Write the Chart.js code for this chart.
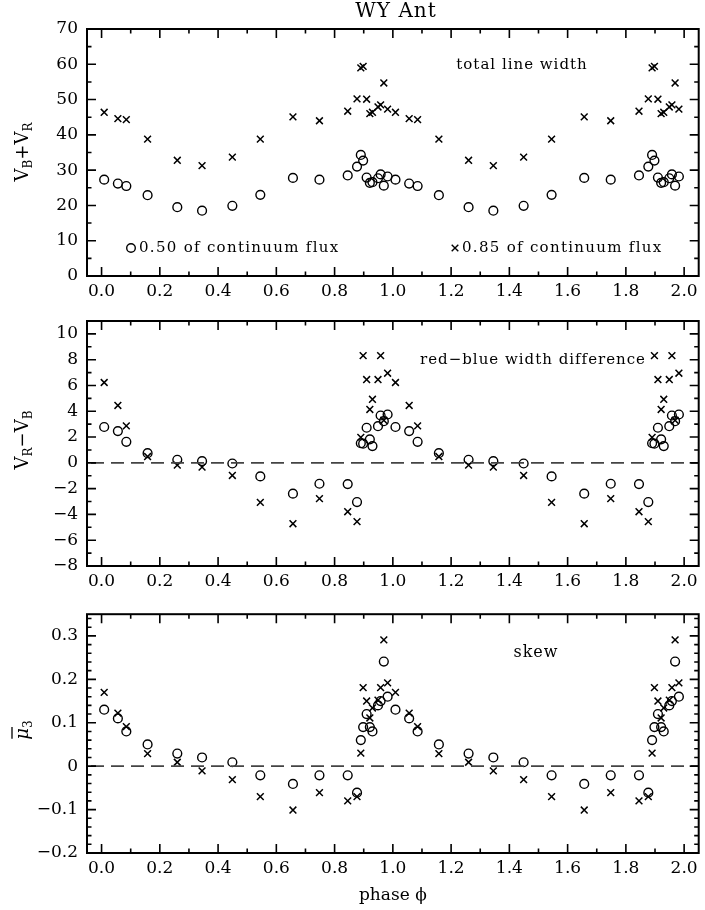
<!DOCTYPE html>
<html>
<head>
<meta charset="utf-8">
<script src="https://cdn.jsdelivr.net/npm/chart.js@4.4.1/dist/chart.umd.min.js"></script>
<style>
body { margin: 0; background: #fff; }
#wrap { position: relative; width: 705px; height: 910px; }
canvas { position: absolute; left: 0; }
</style>
</head>
<body>
<div id="wrap">
<canvas id="c1" width="705" height="300" style="top:0px"></canvas>
<canvas id="c2" width="705" height="295" style="top:300px"></canvas>
<canvas id="c3" width="705" height="315" style="top:595px"></canvas>
</div>
<script>
// phases of the observations (each one is plotted again at phase + 1)
const phases = [0.009, 0.056, 0.085, 0.158, 0.260, 0.345, 0.449, 0.545, 0.657, 0.748,
                0.845, 0.877, 0.890, 0.898, 0.910, 0.921, 0.930, 0.949, 0.958, 0.969, 0.982];

// total line width V_B + V_R
const widthO50 = [27.3, 26.2, 25.5, 22.9, 19.5, 18.5, 19.9, 23.0, 27.8, 27.3,
                  28.5, 31.0, 34.3, 32.7, 27.9, 26.4, 26.6, 27.7, 28.8, 25.6, 28.2];
const widthX85 = [46.4, 44.6, 44.3, 38.8, 32.8, 31.3, 33.7, 38.8, 45.1, 44.0,
                  46.7, 50.2, 59.0, 59.4, 50.1, 46.0, 46.4, 47.9, 48.5, 54.7, 47.3];

// red-blue width difference V_R - V_B
const diffO50 = [2.78, 2.46, 1.63, 0.75, 0.24, 0.13, -0.05, -1.05, -2.39, -1.62,
                 -1.65, -3.04, 1.52, 1.49, 2.72, 1.82, 1.30, 2.84, 3.67, 3.23, 3.75];
const diffX85 = [6.23, 4.45, 2.87, 0.49, -0.18, -0.33, -0.98, -3.07, -4.72, -2.78,
                 -3.79, -4.56, 1.97, 8.32, 6.46, 4.14, 4.93, 6.46, 8.32, 3.30, 6.95];

// skew
const skewO50 = [0.130, 0.110, 0.080, 0.050, 0.029, 0.020, 0.009, -0.021, -0.041, -0.021,
                 -0.021, -0.061, 0.060, 0.090, 0.120, 0.090, 0.080, 0.140, 0.150, 0.241, 0.160];
const skewX85 = [0.170, 0.122, 0.091, 0.029, 0.009, -0.011, -0.031, -0.070, -0.101, -0.061,
                 -0.080, -0.070, 0.030, 0.181, 0.150, 0.111, 0.134, 0.152, 0.181, 0.291, 0.192];

const xTicks = [0, 0.2, 0.4, 0.6, 0.8, 1.0, 1.2, 1.4, 1.6, 1.8, 2.0];
const widthTicks = [0, 10, 20, 30, 40, 50, 60, 70];
const diffTicks = [-8, -6, -4, -2, 0, 2, 4, 6, 8, 10];
const skewTicks = [-0.2, -0.1, 0, 0.1, 0.2, 0.3];

const FONT = 'DejaVu Serif';

function pts(vals) {
    const out = [];
    for (let k = 0; k < 2; k++) {
        phases.forEach((p, i) => {
            if (p + k <= 2.0) out.push({x: p + k, y: vals[i]});
        });
    }
    return out;
}

function minus(s) {
    return s.replace('-', '\u2212');
}

// frame, inward ticks, dashed zero line, texts
function framePlugin(cfg) {
    return {
        id: 'frame' + cfg.name,
        afterDraw(chart) {
            const ctx = chart.ctx;
            const a = chart.chartArea;
            const xs = chart.scales.x;
            const ys = chart.scales.y;
            ctx.save();

            if (cfg.zeroLine) {
                ctx.strokeStyle = '#444';
                ctx.lineWidth = 1.6;
                ctx.setLineDash([13, 7]);
                const y0 = ys.getPixelForValue(0);
                ctx.beginPath();
                ctx.moveTo(a.left + 4, y0);
                ctx.lineTo(a.right, y0);
                ctx.stroke();
                ctx.setLineDash([]);
            }

            ctx.strokeStyle = '#000';
            ctx.lineWidth = 1.6;
            ctx.beginPath();
            for (let v = 0; v <= 2.0001; v += 0.1) {
                const px = xs.getPixelForValue(v);
                const major = Math.abs(v * 5 - Math.round(v * 5)) < 1e-6;
                const len = major ? 9 : 4.5;
                ctx.moveTo(px, a.bottom); ctx.lineTo(px, a.bottom - len);
                ctx.moveTo(px, a.top); ctx.lineTo(px, a.top + len);
            }
            for (let v = cfg.minorFrom; v <= ys.max + 1e-9; v += cfg.minorStep) {
                const py = ys.getPixelForValue(v);
                const r = v / cfg.majorStep;
                const major = Math.abs(r - Math.round(r)) < 1e-6;
                const len = major ? 9 : 4.5;
                ctx.moveTo(a.left, py); ctx.lineTo(a.left + len, py);
                ctx.moveTo(a.right, py); ctx.lineTo(a.right - len, py);
            }
            ctx.stroke();

            ctx.lineWidth = 2;
            ctx.strokeRect(a.left, a.top, a.right - a.left, a.bottom - a.top);

            ctx.fillStyle = '#000';
            ctx.textBaseline = 'middle';
            (cfg.texts || []).forEach(t => {
                ctx.font = t.font || ('15px ' + FONT);
                ctx.letterSpacing = t.spacing || '0px';
                ctx.textAlign = t.align || 'left';
                ctx.fillText(t.text, t.x, t.y);
            });
            ctx.letterSpacing = '0px';
            (cfg.marks || []).forEach(m => {
                ctx.lineWidth = 1.4;
                ctx.beginPath();
                if (m.type === 'circle') {
                    ctx.arc(m.x, m.y, 4.3, 0, Math.PI * 2);
                } else {
                    ctx.moveTo(m.x - 3.3, m.y - 3.3); ctx.lineTo(m.x + 3.3, m.y + 3.3);
                    ctx.moveTo(m.x - 3.3, m.y + 3.3); ctx.lineTo(m.x + 3.3, m.y - 3.3);
                }
                ctx.stroke();
            });

            // rotated y title with subscripts
            ctx.save();
            ctx.translate(cfg.labelX, cfg.labelY);
            ctx.rotate(-Math.PI / 2);
            ctx.textAlign = 'left';
            ctx.textBaseline = 'alphabetic';
            let w = 0;
            cfg.label.forEach(p => { ctx.font = p.font; w += ctx.measureText(p.t).width; });
            let x = -w / 2;
            cfg.label.forEach(p => {
                ctx.font = p.font;
                ctx.fillText(p.t, x, p.dy || 0);
                const pw = ctx.measureText(p.t).width;
                if (p.bar) {
                    ctx.lineWidth = 1.3;
                    ctx.beginPath();
                    ctx.moveTo(x + 1, -16);
                    ctx.lineTo(x + pw + 1, -16);
                    ctx.stroke();
                }
                x += pw;
            });
            ctx.restore();

            ctx.restore();
        }
    };
}

function makeChart(id, cfg) {
    const ctx = document.getElementById(id).getContext('2d');
    return new Chart(ctx, {
        type: 'scatter',
        data: {
            datasets: [{
                label: '0.50 of continuum flux',
                data: pts(cfg.o50),
                pointStyle: 'circle',
                pointRadius: 4.4,
                borderColor: '#000',
                backgroundColor: 'rgba(0,0,0,0)',
                borderWidth: 1.4
            }, {
                label: '0.85 of continuum flux',
                data: pts(cfg.x85),
                pointStyle: 'crossRot',
                pointRadius: 4.8,
                borderColor: '#000',
                backgroundColor: '#000',
                borderWidth: 1.5
            }]
        },
        options: {
            responsive: false,
            animation: false,
            events: [],
            layout: {padding: {top: cfg.padTop, right: 1, left: 0, bottom: cfg.padBottom || 0}},
            plugins: {legend: {display: false}, tooltip: {enabled: false}},
            scales: {
                x: {
                    type: 'linear',
                    min: -0.05,
                    max: 2.05,
                    afterBuildTicks: s => { s.ticks = xTicks.map(v => ({value: v})); },
                    afterFit: s => { s.height = cfg.xHeight; },
                    grid: {display: false, drawTicks: false},
                    border: {display: false},
                    title: cfg.xTitle ? {
                        display: true, text: cfg.xTitle, color: '#000',
                        font: {family: FONT, size: 17}, padding: {top: 5, bottom: 0}
                    } : {display: false},
                    ticks: {
                        color: '#000',
                        font: {family: FONT, size: 17},
                        padding: 5,
                        maxRotation: 0,
                        autoSkip: false,
                        callback: v => v.toFixed(1)
                    }
                },
                y: {
                    type: 'linear',
                    min: cfg.yMin,
                    max: cfg.yMax,
                    afterBuildTicks: s => { s.ticks = cfg.yTicks.map(v => ({value: v})); },
                    afterFit: s => { s.width = 87; },
                    grid: {display: false, drawTicks: false},
                    border: {display: false},
                    ticks: {
                        color: '#000',
                        font: {family: FONT, size: 17},
                        padding: 9,
                        autoSkip: false,
                        callback: cfg.yFormat
                    }
                }
            }
        },
        plugins: [framePlugin(cfg)]
    });
}

const subFont = '12px ' + FONT;
const labFont = '18px ' + FONT;

makeChart('c1', {
    name: 'width', o50: widthO50, x85: widthX85,
    yMin: 0, yMax: 70, yTicks: widthTicks,
    yFormat: v => String(v),
    padTop: 29, xHeight: 24,
    minorFrom: 0, minorStep: 5, majorStep: 10,
    labelX: 28, labelY: 152,
    label: [
        {t: 'V', font: labFont}, {t: 'B', font: subFont, dy: 4},
        {t: '+V', font: labFont}, {t: 'R', font: subFont, dy: 4}
    ],
    texts: [
        {text: 'WY Ant', x: 396, y: 12, align: 'center', font: '20px ' + FONT, spacing: '1px'},
        {text: 'total line width', x: 522, y: 65, align: 'center', spacing: '1px'},
        {text: '0.50 of continuum flux', x: 139, y: 248, spacing: '1.3px'},
        {text: '0.85 of continuum flux', x: 462, y: 248, spacing: '1.3px'}
    ],
    marks: [{type: 'circle', x: 131, y: 248}, {type: 'cross', x: 455, y: 248}]
});

makeChart('c2', {
    name: 'diff', o50: diffO50, x85: diffX85,
    yMin: -8, yMax: 11, yTicks: diffTicks,
    yFormat: v => minus(String(v)),
    padTop: 21, xHeight: 29,
    minorFrom: -8, minorStep: 1, majorStep: 2,
    zeroLine: true,
    labelX: 28, labelY: 140,
    label: [
        {t: 'V', font: labFont}, {t: 'R', font: subFont, dy: 4},
        {t: '\u2212V', font: labFont}, {t: 'B', font: subFont, dy: 4}
    ],
    texts: [
        {text: 'red\u2212blue width difference', x: 533, y: 60, align: 'center', spacing: '1px'}
    ]
});

makeChart('c3', {
    name: 'skew', o50: skewO50, x85: skewX85,
    yMin: -0.2, yMax: 0.35, yTicks: skewTicks,
    yFormat: v => (Math.abs(v) < 1e-9 ? '0' : minus(v.toFixed(1))),
    padTop: 17, xHeight: 53, padBottom: 4, xTitle: 'phase \u03d5',
    minorFrom: -0.2, minorStep: 0.02, majorStep: 0.1,
    zeroLine: true,
    labelX: 28, labelY: 135,
    label: [
        {t: '\u03bc', font: 'italic ' + labFont, bar: true}, {t: '3', font: subFont, dy: 4}
    ],
    texts: [
        {text: 'skew', x: 536, y: 58, align: 'center', font: '16px ' + FONT, spacing: '1px'}
    ]
});
</script>
</body>
</html>
